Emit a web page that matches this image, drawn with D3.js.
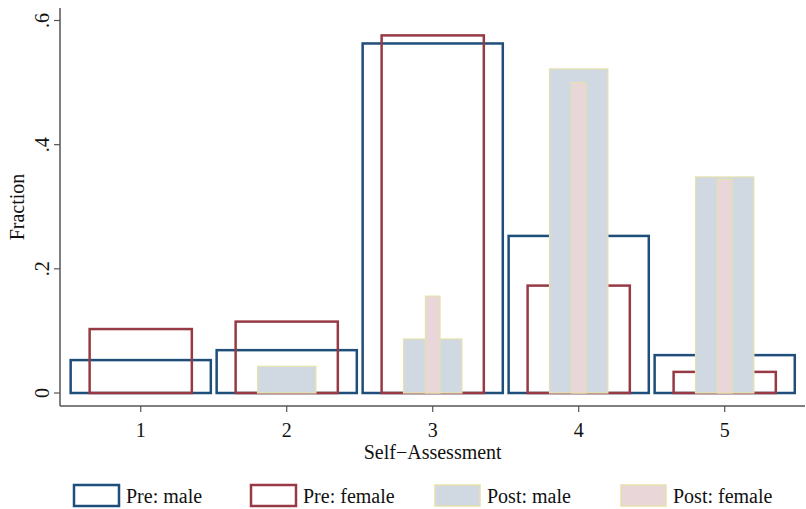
<!DOCTYPE html>
<html lang="en">
<head>
    <meta charset="UTF-8">
    <title>Self-Assessment</title>
    <script src="https://cdnjs.cloudflare.com/ajax/libs/d3/7.8.5/d3.min.js"></script>
    <style>
        body { margin: 0; background: #fff; }
        svg text { font-family: "Liberation Serif", "Times New Roman", serif; fill: #111; }
    </style>
</head>
<body>
<svg width="806" height="509"></svg>
<script>
    // data
    const categories = [1, 2, 3, 4, 5];
    const preMale = [0.053, 0.069, 0.563, 0.253, 0.061];
    const preFemale = [0.103, 0.115, 0.576, 0.173, 0.034];
    const postMale = [0, 0.043, 0.087, 0.522, 0.348];
    const postFemale = [0, 0, 0.156, 0.5, 0.344];
    const yTicks = [0, 0.2, 0.4, 0.6];
    const yTickLabels = ["0", ".2", ".4", ".6"];

    const series = [
        { name: "Pre: male", values: preMale, width: 0.96, fill: "none", stroke: "#1f4e7a", sw: 2.5 },
        { name: "Pre: female", values: preFemale, width: 0.70, fill: "none", stroke: "#973a45", sw: 2.5 },
        { name: "Post: male", values: postMale, width: 0.40, fill: "#d0d9e2", stroke: "#e6e1ad", sw: 1.2 },
        { name: "Post: female", values: postFemale, width: 0.10, fill: "#e9d6d8", stroke: "#e6e1ad", sw: 1.2 }
    ];

    const fontSize = 20;
    const svg = d3.select("svg");
    const plotLeft = 60, plotRight = 805, plotTop = 8, plotBottom = 406;

    const x = d3.scaleLinear().domain([0.447, 5.55]).range([plotLeft, plotRight]);
    const y = d3.scaleLinear().domain([0, 0.6]).range([393, 20.5]);

    // bars
    series.forEach(s => {
        svg.append("g")
            .selectAll("rect")
            .data(categories.map((c, i) => ({ c: c, v: s.values[i] })).filter(d => d.v > 0))
            .enter()
            .append("rect")
            .attr("x", d => x(d.c - s.width / 2))
            .attr("width", d => x(d.c + s.width / 2) - x(d.c - s.width / 2))
            .attr("y", d => y(d.v))
            .attr("height", d => y(0) - y(d.v))
            .attr("fill", s.fill)
            .attr("stroke", s.stroke)
            .attr("stroke-width", s.sw);
    });

    // y axis
    const yAxis = svg.append("g").attr("transform", `translate(${plotLeft},0)`);
    yAxis.append("line").attr("y1", plotTop).attr("y2", plotBottom)
        .attr("stroke", "#555").attr("stroke-width", 1.5);
    yAxis.selectAll(".tick")
        .data(yTicks)
        .enter()
        .append("line")
        .attr("x1", -6).attr("x2", 0)
        .attr("y1", d => y(d)).attr("y2", d => y(d))
        .attr("stroke", "#555").attr("stroke-width", 1.2);
    yAxis.selectAll("text")
        .data(yTicks)
        .enter()
        .append("text")
        .attr("transform", d => `translate(-11,${y(d)}) rotate(-90)`)
        .attr("text-anchor", "middle")
        .attr("font-size", fontSize)
        .text((d, i) => yTickLabels[i]);
    svg.append("text")
        .attr("transform", `translate(24,207) rotate(-90)`)
        .attr("text-anchor", "middle")
        .attr("font-size", fontSize)
        .text("Fraction");

    // x axis
    const xAxis = svg.append("g").attr("transform", `translate(0,${plotBottom})`);
    xAxis.append("line").attr("x1", plotLeft).attr("x2", plotRight)
        .attr("stroke", "#555").attr("stroke-width", 1.5);
    xAxis.selectAll(".tick")
        .data(categories)
        .enter()
        .append("line")
        .attr("x1", d => x(d)).attr("x2", d => x(d))
        .attr("y1", 0).attr("y2", 6)
        .attr("stroke", "#555").attr("stroke-width", 1.2);
    xAxis.selectAll("text")
        .data(categories)
        .enter()
        .append("text")
        .attr("x", d => x(d))
        .attr("y", 31)
        .attr("text-anchor", "middle")
        .attr("font-size", fontSize)
        .text(d => d);
    svg.append("text")
        .attr("x", x(3))
        .attr("y", 459)
        .attr("text-anchor", "middle")
        .attr("font-size", fontSize)
        .text("Self\u2212Assessment");

    // legend
    const legendX = [74, 251, 435, 621];
    const legend = svg.append("g")
        .selectAll("g")
        .data(series)
        .enter()
        .append("g")
        .attr("transform", (d, i) => `translate(${legendX[i]},485)`);
    legend.append("rect")
        .attr("width", 45).attr("height", 21)
        .attr("fill", d => d.fill === "none" ? "#fff" : d.fill)
        .attr("stroke", d => d.stroke)
        .attr("stroke-width", d => d.sw === 2.5 ? 2.5 : 1.5);
    legend.append("text")
        .attr("x", 52)
        .attr("y", 18)
        .attr("font-size", fontSize)
        .text(d => d.name);
</script>
</body>
</html>
